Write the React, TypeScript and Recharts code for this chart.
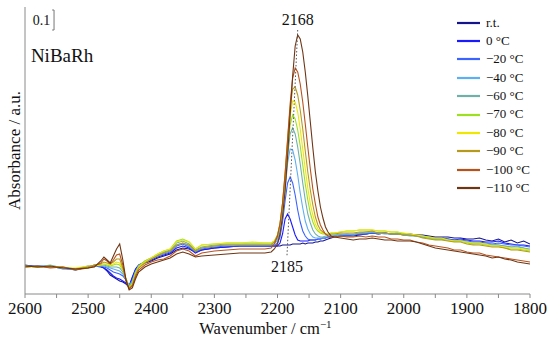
import React from 'react';
import {
  LineChart,
  Line,
  XAxis,
  YAxis,
  Label,
  ReferenceLine,
  ReferenceDot,
} from 'recharts';

// wavenumber grid (cm-1), denser around the CO band
const wavenumbers = [
  2600, 2580, 2560, 2540, 2520, 2500, 2490,
  2480, 2475, 2470, 2465, 2460, 2455, 2450, 2445, 2440, 2435, 2430, 2425, 2420, 2410, 2400,
  2390, 2380, 2370, 2360, 2350, 2340, 2330, 2320, 2300, 2280, 2260, 2240, 2220, 2210,
  2205, 2200, 2196, 2192, 2188, 2184, 2180, 2176, 2172, 2168, 2164, 2160, 2156, 2152, 2148,
  2144, 2140, 2136, 2132, 2128, 2124, 2120, 2115, 2110, 2100,
  2090, 2080, 2070, 2060, 2050, 2040, 2030, 2020, 2010, 2000, 1990, 1980, 1970, 1960, 1950,
  1940, 1930, 1920, 1910, 1900, 1890, 1880, 1870, 1860, 1850, 1840, 1830, 1820, 1810, 1800,
];

// absorbance in mAbs (offset arbitrary)
const rt = [
  -95, -105, -100, -110, -120, -105, -100,
  -105, -110, -125, -145, -155, -165, -175, -180, -190, -205, -160, -120, -100, -85, -75,
  -60, -50, -40, -20, -10, -15, -30, -20, -10, -5, 0, 0, 0, 0,
  0, 0, 0, 5, 5, 5, 5, 10, 10, 10, 10, 15, 10, 15, 15, 15, 20, 20, 25, 25, 30, 35, 40, 45, 50,
  50, 50, 55, 60, 65, 60, 65, 60, 60, 60, 60, 55, 55, 50, 45, 45, 45, 40, 40, 35, 35, 40, 30, 25, 35, 20, 30, 15, 25, 10,
];
const t0 = [
  -100, -100, -105, -110, -115, -105, -95,
  -100, -110, -120, -135, -150, -160, -165, -175, -185, -200, -155, -115, -95, -80, -70,
  -55, -45, -35, -10, 0, -10, -35, -20, -10, -5, 0, 0, 0, 0,
  0, 0, 15, 60, 135, 160, 135, 95, 55, 30, 25, 25, 25, 25, 30, 30, 30, 35, 35, 40, 40, 45, 45, 50, 55,
  55, 55, 60, 60, 65, 65, 65, 60, 65, 55, 55, 55, 50, 45, 40, 40, 35, 30, 35, 30, 25, 25, 20, 20, 25, 15, 10, 5, 5, 0,
];
const m20 = [
  -105, -100, -100, -115, -115, -100, -100,
  -100, -105, -110, -120, -130, -135, -140, -150, -170, -200, -170, -125, -100, -80, -65,
  -50, -40, -30, 0, 10, -5, -30, -15, -5, 0, 0, 0, 0, 0,
  0, 15, 45, 120, 225, 315, 345, 315, 255, 180, 120, 75, 50, 35, 30, 30, 30, 35, 35, 40, 40, 45, 45, 50, 50,
  55, 55, 60, 60, 65, 60, 65, 60, 60, 55, 55, 50, 45, 40, 35, 40, 35, 30, 30, 25, 20, 20, 15, 10, 15, 10, 5, 5, 0, -5,
];
const m40 = [
  -100, -105, -95, -110, -120, -105, -100,
  -100, -100, -105, -110, -115, -120, -125, -140, -165, -200, -175, -130, -100, -80, -65,
  -50, -35, -25, 5, 15, 0, -25, -10, 0, 5, 5, 5, 5, 5,
  10, 30, 70, 155, 280, 415, 485, 480, 430, 355, 265, 190, 125, 85, 60, 45, 40, 40, 40, 40, 45, 45, 50, 50, 55,
  60, 55, 65, 65, 70, 65, 60, 60, 65, 55, 55, 50, 45, 45, 35, 35, 30, 25, 30, 20, 15, 15, 10, 10, 5, 0, -5, 0, -10, -15,
];
const m60 = [
  -105, -100, -105, -110, -115, -105, -100,
  -95, -95, -100, -105, -105, -105, -110, -130, -165, -205, -180, -130, -100, -75, -60,
  -45, -30, -20, 15, 25, 10, -20, -5, 5, 10, 10, 10, 10, 10,
  20, 40, 90, 180, 305, 450, 560, 590, 560, 495, 410, 315, 230, 160, 115, 80, 60, 50, 45, 45, 50, 50, 55, 55, 60,
  60, 60, 65, 70, 70, 65, 65, 60, 60, 55, 50, 50, 45, 40, 35, 35, 30, 25, 25, 20, 10, 15, 10, 5, 5, 0, -5, -5, -10, -20,
];
const m70 = [
  -100, -105, -100, -105, -115, -110, -95,
  -95, -90, -95, -100, -95, -90, -95, -120, -165, -205, -185, -135, -100, -75, -60,
  -40, -25, -15, 25, 35, 20, -15, 5, 10, 15, 15, 15, 15, 15,
  25, 50, 100, 195, 325, 480, 605, 655, 635, 580, 500, 405, 310, 230, 165, 120, 90, 75, 65, 60, 60, 60, 65, 65, 70,
  75, 75, 80, 80, 80, 75, 75, 70, 70, 60, 60, 55, 50, 40, 35, 35, 30, 25, 25, 15, 10, 10, 5, 0, 0, -10, -15, -15, -20, -25,
];
const m80 = [
  -105, -105, -100, -110, -110, -100, -100,
  -95, -90, -90, -95, -90, -80, -85, -115, -165, -210, -190, -140, -105, -80, -60,
  -40, -25, -15, 20, 30, 20, -15, 5, 10, 15, 15, 20, 15, 15,
  25, 55, 110, 210, 345, 510, 650, 725, 720, 670, 585, 485, 385, 290, 210, 155, 110, 85, 70, 65, 60, 60, 65, 65, 70,
  75, 75, 80, 80, 80, 75, 75, 70, 70, 65, 60, 55, 50, 45, 40, 40, 30, 25, 25, 20, 15, 15, 10, 0, 0, -5, -10, -10, -15, -20,
];
const m90 = [
  -100, -105, -105, -105, -115, -105, -95,
  -90, -80, -85, -90, -80, -65, -65, -110, -170, -210, -195, -145, -110, -85, -65,
  -50, -35, -25, 5, 15, 5, -25, -10, 0, 5, 5, 5, 5, 5,
  20, 55, 115, 215, 360, 530, 690, 785, 795, 755, 680, 585, 475, 370, 280, 205, 145, 105, 80, 70, 60, 55, 60, 60, 65,
  65, 65, 70, 70, 75, 65, 65, 60, 60, 55, 55, 50, 40, 35, 30, 30, 25, 20, 20, 10, 5, 5, 0, -5, -5, -10, -20, -20, -25, -30,
];
const m100 = [
  -105, -100, -110, -105, -120, -110, -100,
  -85, -65, -75, -90, -70, -45, -40, -95, -175, -215, -200, -155, -120, -95, -80,
  -70, -65, -50, -25, -15, -25, -50, -35, -25, -20, -15, -15, -15, -10,
  10, 50, 110, 215, 360, 535, 710, 840, 890, 870, 810, 720, 610, 495, 385, 285, 210, 145, 105, 80, 60, 50, 45, 45, 50,
  45, 45, 50, 45, 50, 45, 45, 35, 35, 30, 30, 20, 15, 5, 0, -5, -10, -20, -20, -30, -35, -35, -45, -50, -55, -60, -65, -70, -75, -80,
];
const m110 = [
  -100, -105, -100, -110, -115, -110, -105,
  -75, -55, -70, -85, -50, -15, 10, -70, -170, -220, -210, -165, -130, -105, -90,
  -80, -70, -60, -40, -30, -40, -55, -50, -45, -40, -35, -35, -35, -30,
  -15, 10, 60, 145, 275, 450, 655, 850, 1000, 1055, 1035, 970, 870, 750, 620, 490, 370, 275, 195, 140, 95, 70, 50, 45, 40,
  35, 30, 35, 35, 40, 35, 30, 30, 25, 25, 25, 20, 10, 0, -10, -15, -20, -25, -30, -35, -40, -45, -50, -60, -55, -65, -70, -80, -85, -90,
];

const series = [
  { key: 'rt', name: 'r.t.', color: '#14148c', values: rt },
  { key: 't0', name: '0 °C', color: '#1a1aff', values: t0 },
  { key: 'm20', name: '\u221220 °C', color: '#3a63ff', values: m20 },
  { key: 'm40', name: '\u221240 °C', color: '#5eaef2', values: m40 },
  { key: 'm60', name: '\u221260 °C', color: '#6fb0a8', values: m60 },
  { key: 'm70', name: '\u221270 °C', color: '#9ce020', values: m70 },
  { key: 'm80', name: '\u221280 °C', color: '#f0e600', values: m80 },
  { key: 'm90', name: '\u221290 °C', color: '#b69a1c', values: m90 },
  { key: 'm100', name: '\u2212100 °C', color: '#b8521c', values: m100 },
  { key: 'm110', name: '\u2212110 °C', color: '#6e3514', values: m110 },
];

const xTicks = [2600, 2550, 2500, 2450, 2400, 2350, 2300, 2250, 2200, 2150, 2100, 2050, 2000, 1950, 1900, 1850, 1800];
const peakMarks = [2168, 2185];

const FONT = "Liberation Serif, DejaVu Serif, serif";
const AXIS = '#8a8a8a';

const rows = wavenumbers.map((wn, i) => {
  const row: Record<string, number> = { wn };
  series.forEach(s => {
    row[s.key] = s.values[i] / 1000;
  });
  return row;
});

const XTick = (props: any) => {
  const { x, y, payload } = props;
  if (payload.value % 100 !== 0) return <g />;
  return (
    <text x={x} y={y} dy="0.71em" textAnchor="middle" fontSize={17} fontFamily={FONT} fill="#111">
      {payload.value}
    </text>
  );
};

const XTitle = (props: any) => {
  const vb = props.viewBox;
  return (
    <text x={vb.x + vb.width / 2 - 12} y={vb.y + 40} textAnchor="middle" fontSize={16.5} fontFamily={FONT} fill="#111">
      Wavenumber / cm
      <tspan dy={-6} fontSize={11}>{'\u22121'}</tspan>
    </text>
  );
};

// legend drawn over the chart so it does not shrink the plot area
const LegendList = () => (
  <div
    style={{
      position: 'absolute',
      left: 457,
      top: 13.5,
      fontFamily: FONT,
      fontSize: 13,
      color: '#111',
    }}
  >
    {series.map(s => (
      <div key={s.key} style={{ display: 'flex', alignItems: 'center', height: 18.4 }}>
        <svg width={23} height={4} style={{ display: 'block' }}>
          <line x1={0} x2={23} y1={2} y2={2} stroke={s.color} strokeWidth={2.2} />
        </svg>
        <span style={{ marginLeft: 6, lineHeight: '18.4px', whiteSpace: 'nowrap' }}>{s.name}</span>
      </div>
    ))}
  </div>
);

export default function App() {
  return (
    <div style={{ position: 'absolute', left: 0, top: 0, width: 550, height: 343, background: '#fff' }}>
      <LineChart width={550} height={343} data={rows} margin={{ top: 7, right: 20, bottom: 0, left: 0 }}>
        <XAxis
          dataKey="wn"
          type="number"
          domain={[1800, 2600]}
          reversed
          ticks={xTicks}
          interval={0}
          tickSize={4}
          tickMargin={4}
          height={49}
          stroke={AXIS}
          tick={<XTick />}
          label={{ content: XTitle }}
          allowDataOverflow
        />
        <YAxis
          type="number"
          domain={[-0.24, 1.195]}
          width={25}
          tick={false}
          tickLine={false}
          stroke={AXIS}
          allowDataOverflow
        >
          <Label
            value="Absorbance / a.u."
            angle={-90}
            position="center"
            dx={1}
            style={{ fontFamily: FONT, fontSize: 17, fill: '#111' }}
          />
        </YAxis>
        {series.map(s => (
          <Line
            key={s.key}
            dataKey={s.key}
            name={s.name}
            type="linear"
            stroke={s.color}
            strokeWidth={1.1}
            dot={false}
            isAnimationActive={false}
          />
        ))}
        <ReferenceLine
          segment={[{ x: peakMarks[0], y: 1.08 }, { x: peakMarks[1], y: -0.05 }]}
          stroke="#555"
          strokeDasharray="1.5 2"
        />
        <ReferenceDot
          x={peakMarks[0]}
          y={1.08}
          r={0}
          fill="none"
          stroke="none"
          label={{ value: String(peakMarks[0]), position: 'top', offset: 5, fontSize: 16, fontFamily: FONT, fill: '#111' }}
        />
        <ReferenceDot
          x={peakMarks[1]}
          y={-0.05}
          r={0}
          fill="none"
          stroke="none"
          label={{ value: String(peakMarks[1]), position: 'bottom', offset: 5, fontSize: 16, fontFamily: FONT, fill: '#111' }}
        />
        {/* 0.1 absorbance scale bar */}
        <ReferenceLine segment={[{ x: 2554, y: 1.08 }, { x: 2554, y: 1.18 }]} stroke="#777" />
        <ReferenceLine segment={[{ x: 2557, y: 1.18 }, { x: 2554, y: 1.18 }]} stroke="#777" />
        <ReferenceLine segment={[{ x: 2557, y: 1.08 }, { x: 2554, y: 1.08 }]} stroke="#777" />
        <ReferenceDot
          x={2557}
          y={1.13}
          r={0}
          fill="none"
          stroke="none"
          label={{ value: '0.1', position: 'left', offset: 2, fontSize: 14, fontFamily: FONT, fill: '#111' }}
        />
        <ReferenceDot
          x={2597}
          y={0.955}
          r={0}
          fill="none"
          stroke="none"
          label={{ value: 'NiBaRh', position: 'right', offset: 4, fontSize: 19, fontFamily: FONT, fill: '#111' }}
        />
      </LineChart>
      <LegendList />
    </div>
  );
}
